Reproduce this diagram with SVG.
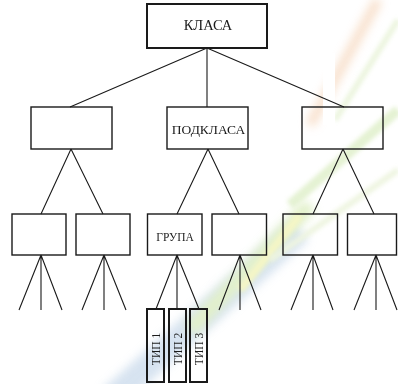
<svg xmlns="http://www.w3.org/2000/svg" width="398" height="384" viewBox="0 0 398 384">
<defs>
<filter id="blur" x="-20%" y="-20%" width="140%" height="140%"><feGaussianBlur stdDeviation="5"/></filter>
<filter id="blur2" x="-20%" y="-20%" width="140%" height="140%"><feGaussianBlur stdDeviation="2"/></filter>
<style>
.box{fill:none;stroke:#1a1a1a;stroke-width:1.4}
.thick{fill:none;stroke:#1a1a1a;stroke-width:2}
.ln{stroke:#1a1a1a;stroke-width:1.1;fill:none}
.t{font-family:"Liberation Serif","Times New Roman",serif;fill:#1a1a1a;text-anchor:middle}
</style>
</defs>
<rect width="398" height="384" fill="#ffffff"/>
<g id="background" opacity="0.6">
<path d="M110 400 L300 230" stroke="#bcd0e6" stroke-width="26" filter="url(#blur)"/>
<path d="M190 330 L310 205" stroke="#cfe7a8" stroke-width="16" filter="url(#blur)"/>
<path d="M240 290 L300 215" stroke="#eef0a0" stroke-width="8" filter="url(#blur2)"/>
<path d="M290 205 L398 110" stroke="#d3e9b5" stroke-width="10" filter="url(#blur2)"/>
<path d="M270 260 L398 170" stroke="#e3eecc" stroke-width="6" filter="url(#blur2)"/>
<path d="M310 125 L378 0" stroke="#f3c9a6" stroke-width="9" filter="url(#blur)"/>
<path d="M335 120 L398 20" stroke="#dfeec8" stroke-width="6" filter="url(#blur2)"/>
<rect x="323" y="53" width="12" height="72" fill="#ffffff"/>
</g>
<g id="connectors">
<path class="ln" d="M207 48 L70 107 M207 48 L207 107 M207 48 L344 107"/>
<path class="ln" d="M71 149 L41 214 M71 149 L103 214"/>
<path class="ln" d="M208 149 L177 214 M208 149 L239 214"/>
<path class="ln" d="M343 149 L313 214 M343 149 L374 214"/>
<path class="ln" d="M41 255 L19 310 M41 255 L41 310 M41 255 L62 310"/>
<path class="ln" d="M104 255 L82 310 M104 255 L104 310 M104 255 L126 310"/>
<path class="ln" d="M177 255 L156 309 M177 255 L177 309 M177 255 L199 309"/>
<path class="ln" d="M240 255 L219 310 M240 255 L240 310 M240 255 L261 310"/>
<path class="ln" d="M313 255 L291 310 M313 255 L313 310 M313 255 L333 310"/>
<path class="ln" d="M376 255 L354 310 M376 255 L376 310 M376 255 L397 310"/>
</g>
<g id="klasa"><rect class="thick" x="147" y="4" width="120" height="44"/><text class="t" x="208" y="29.5" font-size="14.5">КЛАСА</text></g>
<g id="sub1"><rect class="box" x="31" y="107" width="81" height="42"/></g>
<g id="podklasa"><rect class="box" x="167" y="107" width="81" height="42"/><text class="t" x="208.5" y="133.5" font-size="13.5">ПОДКЛАСА</text></g>
<g id="sub3"><rect class="box" x="302" y="107" width="81" height="42"/></g>
<g id="g1"><rect class="box" x="12" y="214" width="54" height="41"/></g>
<g id="g2"><rect class="box" x="76" y="214" width="54" height="41"/></g>
<g id="grupa"><rect class="box" x="147.5" y="214" width="54.5" height="41"/><text class="t" x="175" y="241" font-size="11.5">ГРУПА</text></g>
<g id="g4"><rect class="box" x="212" y="214" width="54.5" height="41"/></g>
<g id="g5"><rect class="box" x="283" y="214" width="54.5" height="41"/></g>
<g id="g6"><rect class="box" x="347.5" y="214" width="49" height="41"/></g>
<g id="tip1"><rect class="thick" x="147" y="309" width="17" height="73"/><text class="t" font-size="11.5" transform="translate(160,349) rotate(-90)">ТИП 1</text></g>
<g id="tip2"><rect class="thick" x="169" y="309" width="17" height="73"/><text class="t" font-size="11.5" transform="translate(181.5,349) rotate(-90)">ТИП 2</text></g>
<g id="tip3"><rect class="thick" x="190" y="309" width="17" height="73"/><text class="t" font-size="11.5" transform="translate(202.5,349) rotate(-90)">ТИП 3</text></g>
</svg>
